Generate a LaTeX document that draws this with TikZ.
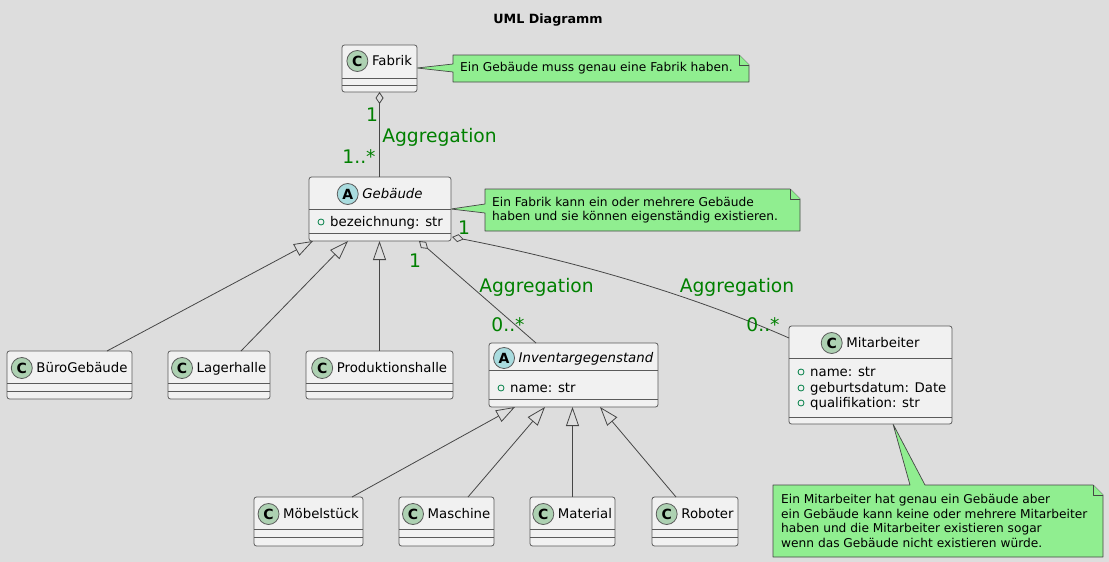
\documentclass[tikz,border=0pt]{standalone}
\usepackage{fontspec}
\setmainfont{DejaVu Sans}
\usetikzlibrary{arrows.meta}
\definecolor{bgc}{HTML}{DDDDDD}
\definecolor{clsfill}{HTML}{F1F1F1}
\definecolor{clsborder}{HTML}{5A5A5A}
\definecolor{notefill}{HTML}{90EE90}
\definecolor{iconC}{HTML}{ADD1B2}
\definecolor{iconA}{HTML}{A9DCDF}
\definecolor{lblgreen}{HTML}{008000}
\definecolor{attrgreen}{HTML}{038048}
\definecolor{linec}{HTML}{464646}
\pgfdeclarelayer{back}
\pgfsetlayers{back,main}
\newcommand\umlclass[7]{%
  \node[cls, minimum width={#4-#2}, minimum height={#5-#3}] (#1) at ({(#2+#4)/2},{(#3+#5)/2}) {};
  \draw[clsline] (#2,#6) -- (#4,#6) (#2,#7) -- (#4,#7);
}
\newcommand\umlhead[6]{%
  \node[headtxt] (#1-t) at ({#2+12.5},#3) {#6};
  \node[icon, fill=#5] (#1-i) at ([xshift=-14.5pt]#1-t.west) {#4};
}
\newcommand\umlattr[4]{%
  \draw[attrc] ({#2+12},#3) circle (3pt);
  \node[attrtxt] (#1) at ({#2+21},#3) {#4};
}
\begin{document}
\begin{tikzpicture}[x=1pt,y=-1pt,
  cls/.style={draw=clsborder, fill=clsfill, rounded corners=2.5pt, line width=0.8pt, inner sep=0pt, outer sep=0pt},
  clsline/.style={draw=clsborder, line width=0.8pt},
  headtxt/.style={inner sep=0pt, font=\fontsize{13.3}{16}\selectfont, text height=9.7pt, text depth=0pt},
  icon/.style={circle, draw=clsborder, line width=0.8pt, minimum size=21pt, inner sep=0pt, font=\bfseries\fontsize{14}{14}\selectfont},
  attrtxt/.style={anchor=west, inner sep=0pt, font=\fontsize{13.3}{16}\selectfont, text height=9.7pt, text depth=0pt},
  attrc/.style={draw=attrgreen, line width=0.8pt},
  notetxt/.style={inner sep=0pt, align=left, anchor=west, font=\fontsize{12.2}{14.7}\selectfont},
  noteshape/.style={fill=notefill, draw=linec, line width=0.7pt, line join=round},
  lbl/.style={inner sep=0pt, text=lblgreen, font=\fontsize{18.7}{20}\selectfont, text height=13.6pt, text depth=0pt},
  gen/.style={draw=linec, line width=0.8pt, -{Triangle[open, length=19pt, width=13pt]}},
  agg/.style={draw=linec, line width=0.8pt, {Diamond[open, length=12pt, width=8pt]}-},
  ttl/.style={inner sep=0pt, font=\bfseries\fontsize{12.7}{14}\selectfont, text height=9.3pt, text depth=0pt}
]
\useasboundingbox (0,0) rectangle (1109,562);
\begin{pgfonlayer}{back}
\fill[bgc] (0,0) rectangle (1109,562);
\end{pgfonlayer}

\node[ttl] (title) at (548,19) {UML Diagramm};

% classes
\umlclass{Fabrik}{342}{45}{417}{92}{78}{85}
\umlhead{Fabrik}{379.5}{61}{C}{iconC}{Fabrik}

\umlclass{Gebaeude}{309}{177}{451}{241}{209}{233}
\umlhead{Gebaeude}{380}{194}{A}{iconA}{\itshape Gebäude}
\umlattr{Gebaeude-a1}{309}{222}{bezeichnung: str}

\umlclass{Buero}{7}{351}{132}{399}{383}{391}
\umlhead{Buero}{69.5}{368}{C}{iconC}{BüroGebäude}
\umlclass{Lager}{168}{351}{270}{399}{383}{391}
\umlhead{Lager}{219}{368}{C}{iconC}{Lagerhalle}
\umlclass{Prod}{306}{351}{453}{399}{383}{391}
\umlhead{Prod}{379.5}{368}{C}{iconC}{Produktionshalle}

\umlclass{Inv}{489}{343}{658}{407}{370}{399}
\umlhead{Inv}{573.5}{358}{A}{iconA}{\itshape Inventargegenstand}
\umlattr{Inv-a1}{489}{388}{name: str}

\umlclass{Mit}{789}{326}{952}{424}{358}{417}
\umlhead{Mit}{870.5}{343}{C}{iconC}{Mitarbeiter}
\umlattr{Mit-a1}{789}{372}{name: str}
\umlattr{Mit-a2}{789}{388}{geburtsdatum: Date}
\umlattr{Mit-a3}{789}{403}{qualifikation: str}

\umlclass{Moebel}{254}{497}{363}{546}{529}{537}
\umlhead{Moebel}{308.5}{514}{C}{iconC}{Möbelstück}
\umlclass{Maschine}{399}{497}{494}{546}{529}{537}
\umlhead{Maschine}{446.5}{514}{C}{iconC}{Maschine}
\umlclass{Material}{530}{497}{615}{546}{529}{537}
\umlhead{Material}{572.5}{514}{C}{iconC}{Material}
\umlclass{Roboter}{652}{497}{738}{546}{529}{537}
\umlhead{Roboter}{695}{514}{C}{iconC}{Roboter}

% notes
\node[notetxt] (n1) at (460,68.5) {Ein Gebäude muss genau eine Fabrik haben.};
\node[notetxt] (n2) at (492,210) {Ein Fabrik kann ein oder mehrere Gebäude\\haben und sie können eigenständig existieren.};
\node[notetxt] (n3) at (781,521) {Ein Mitarbeiter hat genau ein Gebäude aber\\ein Gebäude kann keine oder mehrere Mitarbeiter\\haben und die Mitarbeiter existieren sogar\\wenn das Gebäude nicht existieren würde.};
\begin{pgfonlayer}{back}
\draw[noteshape] (453,55) -- (739,55) -- (749,65) -- (749,82) -- (453,82) -- (453,72) -- (Fabrik.east |- 0,68) -- (453,64) -- cycle;
\draw[noteshape] (739,55) -- (739,65) -- (749,65);
\draw[noteshape] (485,189) -- (790,189) -- (800,199) -- (800,231) -- (485,231) -- (485,213) -- (Gebaeude.east |- 0,209) -- (485,204) -- cycle;
\draw[noteshape] (790,189) -- (790,199) -- (800,199);
\draw[noteshape] (773,485) -- (910,485) -- ([xshift=22.5pt]Mit.south) -- (925,485) -- (1093,485) -- (1103,495) -- (1103,557) -- (773,557) -- cycle;
\draw[noteshape] (1093,485) -- (1093,495) -- (1103,495);
\end{pgfonlayer}

% generalisations
\draw[gen] ([xshift=37.5pt]Buero.north) -- ([xshift=4pt]Gebaeude.south west);
\draw[gen] ([xshift=22pt]Lager.north) -- ([xshift=39pt]Gebaeude.south west);
\draw[gen] (Prod.north) -- (Prod.north |- Gebaeude.south);
\draw[gen] ([xshift=43.5pt]Moebel.north) -- ([xshift=26pt]Inv.south west);
\draw[gen] ([xshift=21.5pt]Maschine.north) -- ([xshift=56pt]Inv.south west);
\draw[gen] (Material.north) -- (Material.north |- Inv.south);
\draw[gen] ([xshift=-19pt]Roboter.north) -- ([xshift=111pt]Inv.south west);

% aggregations
\draw[agg] (Fabrik.south) -- (Fabrik.south |- Gebaeude.north);
\draw[agg] ([xshift=110pt]Gebaeude.south west) -- ([xshift=47pt]Inv.north west);
\draw[agg] ([xshift=1pt,yshift=4pt]Gebaeude.south east) .. controls (560,258) and (680,290) .. (Mit.west |- 0,338);

% labels
\node[lbl] (l1) at (372,114.5) {1};
\node[lbl] (l2) at (439.5,135.5) {Aggregation};
\node[lbl] (l3) at (359,156.5) {1..*};
\node[lbl] (l4) at (464,227.5) {1};
\node[lbl] (l5) at (415,261) {1};
\node[lbl] (l6) at (536.5,285.5) {Aggregation};
\node[lbl] (l7) at (508,324.5) {0..*};
\node[lbl] (l8) at (737,285.5) {Aggregation};
\node[lbl] (l9) at (763,324.5) {0..*};
\end{tikzpicture}
\end{document}
